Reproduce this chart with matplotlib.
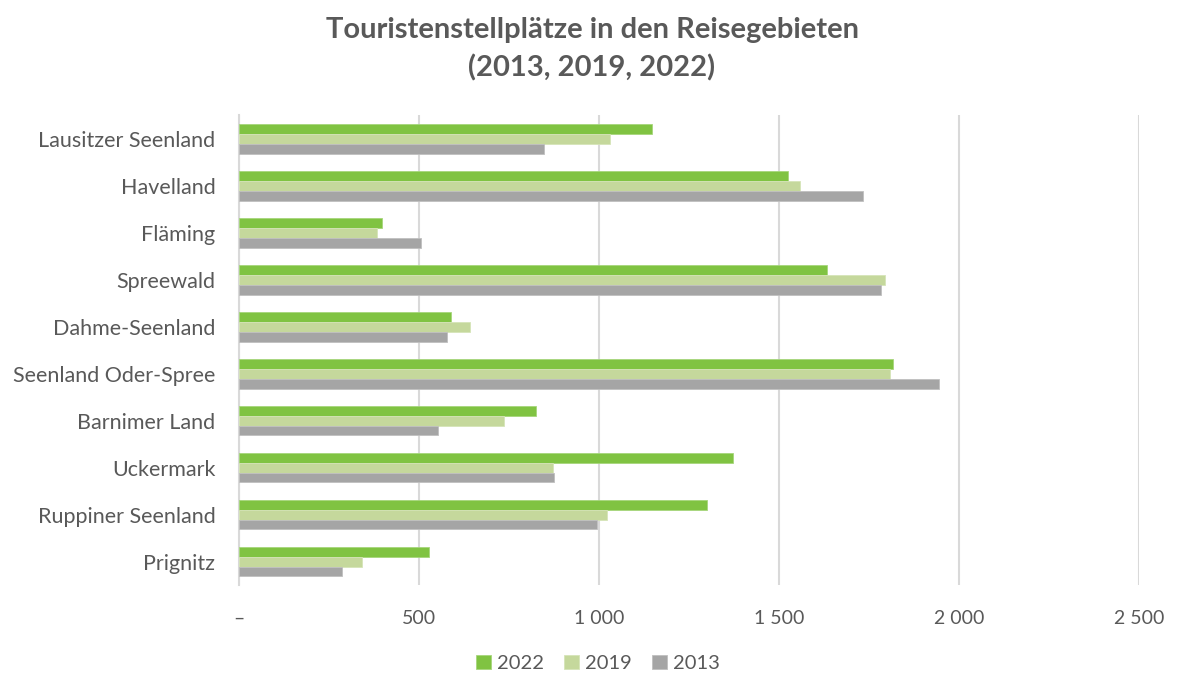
import numpy as np
import matplotlib.pyplot as plt
from matplotlib.ticker import FuncFormatter

plt.rcParams['font.family'] = ['Lato', 'DejaVu Sans']

regions = ['Lausitzer Seenland', 'Havelland', 'Fläming', 'Spreewald', 'Dahme-Seenland',
           'Seenland Oder-Spree', 'Barnimer Land', 'Uckermark', 'Ruppiner Seenland', 'Prignitz']
v2022 = [1148, 1524, 398, 1632, 589, 1817, 826, 1372, 1300, 527]
v2019 = [1030, 1557, 382, 1793, 641, 1808, 735, 871, 1021, 343]
v2013 = [846, 1732, 505, 1783, 578, 1945, 553, 875, 993, 285]

grey = '#595959'
fig = plt.figure(figsize=(11.77, 6.82), dpi=100)
ax = fig.add_axes([0.203, 0.142, 0.765, 0.689])

y = np.arange(len(regions))
h = 0.21
ax.barh(y - h, v2022, height=h, color='#80c342', edgecolor='#a6d67c', linewidth=0.6, label='2022', zorder=3)
ax.barh(y, v2019, height=h, color='#c5d89c', edgecolor='#d6e4b8', linewidth=0.6, label='2019', zorder=3)
ax.barh(y + h, v2013, height=h, color='#a5a5a5', edgecolor='#c0c0c0', linewidth=0.6, label='2013', zorder=3)

ax.set_xlim(0, 2500)
ax.set_ylim(len(regions) - 0.5, -0.5)
ax.set_xticks([0, 500, 1000, 1500, 2000, 2500])
ax.xaxis.set_major_formatter(FuncFormatter(
    lambda v, p: '–' if v == 0 else f'{int(v):,}'.replace(',', ' ')))
ax.set_yticks(y)
ax.set_yticklabels(regions)
ax.tick_params(axis='x', length=0, labelsize=14, labelcolor=grey, pad=18)
ax.tick_params(axis='y', length=0, labelsize=15.5, labelcolor=grey, pad=17)
ax.grid(axis='x', color='#d9d9d9', linewidth=1.5, zorder=0)
for s in ['top', 'right', 'bottom']:
    ax.spines[s].set_visible(False)
ax.spines['left'].set_color('#d9d9d9')
ax.spines['left'].set_linewidth(1.5)

fig.text(0.503, 0.975, 'Touristenstellplätze in den Reisegebieten\n(2013, 2019, 2022)',
         ha='center', va='top', fontsize=21, fontweight='bold', color=grey, linespacing=1.5)

fig.legend(loc='lower center', bbox_to_anchor=(0.508, -0.012), ncol=3, frameon=False,
           fontsize=14.5, labelcolor=grey, handlelength=0.75, handleheight=0.75,
           handletextpad=0.3, columnspacing=1.0)

fig.savefig('out.png', dpi=100, facecolor='white')
